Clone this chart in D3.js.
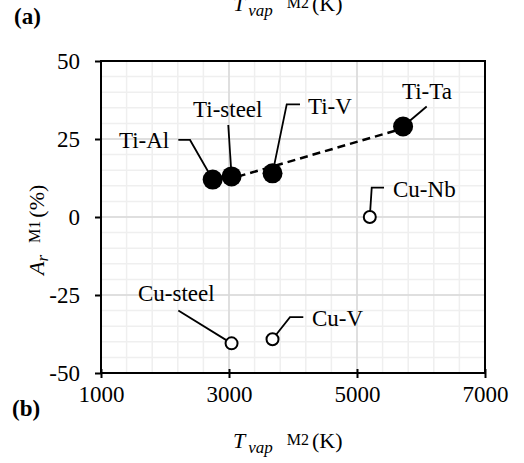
<!DOCTYPE html>
<html>
<head>
<meta charset="utf-8" />
<script src="https://cdnjs.cloudflare.com/ajax/libs/d3/7.8.5/d3.min.js"></script>
</head>
<body style="margin:0; background:#fff">
<svg id="chart" width="524" height="463"></svg>
<script>
// Ti couples (filled markers)
const tiNames = ["Ti-Al", "Ti-steel", "Ti-V", "Ti-Ta"];
const tiTvap = [2745, 3040, 3680, 5720];
const tiAr = [12, 13, 14, 29];

// Cu couples (open markers)
const cuNames = ["Cu-Nb", "Cu-steel", "Cu-V"];
const cuTvap = [5200, 3040, 3680];
const cuAr = [0, -40.5, -39.2];

// dashed trend line through the Ti points
const trendX = [2745, 5720];
const trendY = [10.6, 28.4];

const xTicks = [1000, 3000, 5000, 7000];
const yTicks = [-50, -25, 0, 25, 50];

// data label anchors and leader elbows, in data units
const labelAt = {
	"Ti-Al":    {lx: 1281, ly: 22.1, leader: [[2208, 24.7], [2391, 24.7]]},
	"Ti-steel": {lx: 2438, ly: 32.1, leader: [[2989, 29.5]]},
	"Ti-V":     {lx: 4234, ly: 33.0, leader: [[4109, 36.1], [3902, 36.1]]},
	"Ti-Ta":    {lx: 5703, ly: 37.8, leader: [[6089, 35.4]]},
	"Cu-Nb":    {lx: 5563, ly: 6.4,  leader: [[5422, 9.4], [5230, 9.4]]},
	"Cu-steel": {lx: 1578, ly: -26.9, leader: [[2208, -30.0]]},
	"Cu-V":     {lx: 4297, ly: -34.9, leader: [[4161, -32.1], [3953, -32.1]]}
};

const FONT = "Liberation Serif";

let svg = d3.select("#chart");
let mLeft = 101, mTop = 61, width = 384, height = 312;

let x = d3.scaleLinear().domain([1000, 7000]).range([mLeft, mLeft + width]);
let y = d3.scaleLinear().domain([-50, 50]).range([mTop + height, mTop]);

// gridlines: minor first, then major
let grid = svg.append("g");
grid.selectAll("line.vminor")
	.data(d3.range(1000, 7001, 400))
	.enter().append("line")
	.attr("x1", d => x(d)).attr("x2", d => x(d))
	.attr("y1", mTop).attr("y2", mTop + height)
	.attr("stroke", "#efefef").attr("stroke-width", 1.5);
grid.selectAll("line.hminor")
	.data(d3.range(-50, 51, 5))
	.enter().append("line")
	.attr("y1", d => y(d)).attr("y2", d => y(d))
	.attr("x1", mLeft).attr("x2", mLeft + width)
	.attr("stroke", "#efefef").attr("stroke-width", 1.5);
grid.selectAll("line.vmajor")
	.data(xTicks)
	.enter().append("line")
	.attr("x1", d => x(d)).attr("x2", d => x(d))
	.attr("y1", mTop).attr("y2", mTop + height)
	.attr("stroke", "#d9d9d9").attr("stroke-width", 1.5);
grid.selectAll("line.hmajor")
	.data(yTicks)
	.enter().append("line")
	.attr("y1", d => y(d)).attr("y2", d => y(d))
	.attr("x1", mLeft).attr("x2", mLeft + width)
	.attr("stroke", "#d9d9d9").attr("stroke-width", 1.5);

// axes
let xAxis = svg.append("g")
	.attr("transform", `translate(0,${mTop + height})`)
	.call(d3.axisBottom(x).tickValues(xTicks).tickSize(5).tickPadding(7).tickFormat(d => String(d)));
xAxis.selectAll(".tick line").attr("y1", -4);
let yAxis = svg.append("g")
	.attr("transform", `translate(${mLeft},0)`)
	.call(d3.axisLeft(y).tickValues(yTicks).tickSize(6).tickPadding(15).tickFormat(d => String(d)));
[xAxis, yAxis].forEach(a => {
	a.select(".domain").remove();
	a.selectAll(".tick line").attr("stroke", "#000").attr("stroke-width", 2);
	a.selectAll(".tick text").attr("font-size", 23);
});
xAxis.selectAll(".tick text").attr("dy", "0.75em");

// plot box
svg.append("rect")
	.attr("x", mLeft).attr("y", mTop).attr("width", width).attr("height", height)
	.attr("fill", "none").attr("stroke", "#000").attr("stroke-width", 2);

// trend line
svg.append("path")
	.attr("d", d3.line()([[x(trendX[0]), y(trendY[0])], [x(trendX[1]), y(trendY[1])]]))
	.attr("stroke", "#000").attr("stroke-width", 2.5).attr("stroke-dasharray", "8,5").attr("fill", "none");

// leaders and labels
function drawLabels(names, xs, ys) {
	names.forEach((n, i) => {
		let a = labelAt[n];
		let pts = a.leader.map(p => [x(p[0]), y(p[1])]);
		pts.push([x(xs[i]), y(ys[i])]);
		svg.append("path")
			.attr("d", d3.line()(pts))
			.attr("stroke", "#000").attr("stroke-width", 1.8).attr("fill", "none");
		svg.append("text")
			.attr("x", x(a.lx)).attr("y", y(a.ly))
			.attr("font-size", 23)
			.text(n);
	});
}
drawLabels(tiNames, tiTvap, tiAr);
drawLabels(cuNames, cuTvap, cuAr);

// markers
svg.append("g").selectAll("circle")
	.data(tiNames)
	.enter().append("circle")
	.attr("cx", (d, i) => x(tiTvap[i])).attr("cy", (d, i) => y(tiAr[i]))
	.attr("r", 10).attr("fill", "#000");
svg.append("g").selectAll("circle")
	.data(cuNames)
	.enter().append("circle")
	.attr("cx", (d, i) => x(cuTvap[i])).attr("cy", (d, i) => y(cuAr[i]))
	.attr("r", 6).attr("fill", "#fff").attr("stroke", "#000").attr("stroke-width", 2);

// panel letters
svg.append("text").attr("x", 14).attr("y", 24).attr("font-size", 23).attr("font-weight", "bold").text("(a)");
svg.append("text").attr("x", 12).attr("y", 416).attr("font-size", 23).attr("font-weight", "bold").text("(b)");

// axis titles
function tvapTitle(tx, ty) {
	let t = svg.append("text").attr("x", tx).attr("y", ty).attr("font-size", 22);
	t.append("tspan").attr("font-style", "italic").text("T");
	t.append("tspan").attr("font-style", "italic").attr("font-size", 17).attr("dy", 5).attr("dx", 3).text("vap");
	t.append("tspan").attr("font-size", 16).attr("dy", -8).attr("dx", 14).text("M2");
	t.append("tspan").attr("dy", 3).attr("dx", 3).text("(K)");
}
tvapTitle(233, 448);
tvapTitle(233, 11);

let yt = svg.append("text")
	.attr("transform", "translate(44,275) rotate(-90)")
	.attr("font-size", 22);
yt.append("tspan").attr("font-style", "italic").text("A");
yt.append("tspan").attr("font-style", "italic").attr("font-size", 17).attr("dy", 4).attr("dx", 0).text("r");
yt.append("tspan").attr("font-size", 16).attr("dy", -8).attr("dx", 12).text("M1");
yt.append("tspan").attr("dy", 4).attr("dx", 3).text("(%)");

// one font for every text
svg.selectAll("text").attr("font-family", FONT).style("font-family", FONT).attr("fill", "#000");
</script>
</body>
</html>
